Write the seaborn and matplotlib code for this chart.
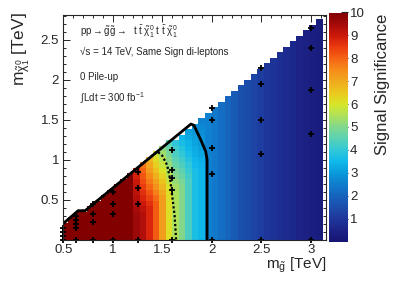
import numpy as np
import matplotlib
matplotlib.use("Agg")
import matplotlib.pyplot as plt
import seaborn as sns
from matplotlib.colors import LinearSegmentedColormap
from matplotlib.ticker import MultipleLocator

# ---------------- data ----------------
# heat-map binning (gluino mass columns, LSP mass rows), TeV
gluino_lo = 0.48
gluino_bin = 0.066
n_gluino_bins = 40
lsp_bin = 0.069
n_lsp_bins = 40

# number of filled LSP cells in each gluino column (kinematic triangle)
col_rows = [3, 4, 5, 5, 6, 7, 8, 9, 10, 11, 12, 13, 14, 15, 16, 17, 18, 18, 19, 20,
            21, 22, 23, 24, 25, 26, 27, 28, 29, 30, 31, 32, 33, 34, 35, 36, 37, 38, 39, 40]

# signal significance in each gluino column (low LSP mass)
sig_col = [10, 10, 10, 10, 10, 10, 10, 10, 10, 10, 10, 9.6, 9.3, 8.8, 8.1, 7.2, 6.1, 5.5, 5.0, 4.3,
           3.7, 3.45, 2.6, 2.4, 2.2, 2.0, 1.8, 1.6, 1.45, 1.3, 1.15, 1.0, 0.9, 0.8, 0.7, 0.6,
           0.5, 0.4, 0.35, 0.3]

# significance of the top cells (diagonal edge first, going down) for columns near the contours
edge_cols = [11, 12, 13, 14, 15, 16, 17, 18, 19, 20, 21]
edge_vals = [
    [8.8, 8.9, 9.0, 9.1, 9.2, 9.3, 9.35, 9.45, 9.55],
    [7.8, 8.0, 8.15, 8.3, 8.5, 8.65, 8.8, 9.0, 9.2],
    [6.8, 7.05, 7.25, 7.5, 7.7, 7.95, 8.2, 8.4, 8.65],
    [5.9, 6.15, 6.4, 6.65, 6.9, 7.15, 7.4, 7.65, 7.9],
    [5.1, 5.35, 5.6, 5.8, 6.05, 6.3, 6.55, 6.8, 7.0],
    [4.5, 4.7, 4.85, 5.05, 5.25, 5.4, 5.6, 5.8, 6.0],
    [3.95, 4.15, 4.3, 4.5, 4.65, 4.85, 5.0, 5.2, 5.4],
    [3.5, 3.65, 3.85, 4.0, 4.2, 4.35, 4.55, 4.7, 4.9],
    [3.1, 3.25, 3.4, 3.5, 3.65, 3.8, 3.95, 4.1, 4.2],
    [2.85, 2.95, 3.05, 3.15, 3.25, 3.35, 3.45, 3.55, 3.65],
    [2.6, 2.7, 2.8, 2.9, 3.0, 3.1, 3.2, 3.3, 3.4],
]

# simulated signal points
point_gluino = [0.5, 0.5, 0.5, 0.5,
                0.625, 0.625, 0.625, 0.625, 0.625,
                0.8, 0.8, 0.8, 0.8,
                1.0, 1.0, 1.0, 1.0,
                1.25, 1.25, 1.25, 1.25,
                1.6, 1.6, 1.6, 1.6, 1.6,
                2.0, 2.0, 2.0, 2.0, 2.0,
                2.5, 2.5, 2.5, 2.5, 2.5,
                3.0, 3.0, 3.0, 3.0, 3.0]
point_lsp = [0.0, 0.05, 0.1, 0.15,
             0.0, 0.15, 0.2, 0.25, 0.3,
             0.0, 0.225, 0.325, 0.45,
             0.0, 0.325, 0.45, 0.6,
             0.0, 0.45, 0.65, 0.85,
             0.0, 0.625, 0.775, 0.875, 1.125,
             0.0, 0.825, 1.15, 1.5, 1.65,
             0.0, 1.075, 1.5, 1.95, 2.15,
             0.0, 1.325, 1.875, 2.4, 2.65]

# 3 sigma (solid) and 5 sigma (dotted) contours
c3_gluino = [1.953, 1.953, 1.939, 1.896, 1.82, 1.79, 0.72, 0.65, 0.5]
c3_lsp = [0.0, 1.0, 1.104, 1.229, 1.43, 1.445, 0.36, 0.36, 0.2]
c5_gluino = [1.64, 1.625, 1.60, 1.58, 1.55, 1.50, 1.45, 0.72, 0.65, 0.5]
c5_lsp = [0.0, 0.3, 0.55, 0.75, 0.93, 1.05, 1.10, 0.36, 0.36, 0.2]

cbar_ticks = [1, 2, 3, 4, 5, 6, 7, 8, 9, 10]

# ---------------- style ----------------
sns.set_style("ticks")
plt.rcParams["font.family"] = ["Liberation Sans", "DejaVu Sans"]
plt.rcParams["mathtext.fontset"] = "custom"
plt.rcParams["mathtext.rm"] = "Liberation Sans"
plt.rcParams["mathtext.it"] = "Liberation Sans"
plt.rcParams["mathtext.bf"] = "Liberation Sans:bold"

stops = [
    (0.00, (22, 22, 115)), (0.05, (28, 35, 135)), (0.10, (30, 55, 155)),
    (0.15, (28, 78, 172)), (0.20, (22, 100, 190)), (0.25, (15, 125, 205)),
    (0.30, (10, 155, 220)), (0.35, (15, 185, 235)), (0.40, (50, 200, 215)),
    (0.45, (90, 210, 180)), (0.50, (130, 215, 140)), (0.55, (175, 225, 90)),
    (0.60, (215, 230, 40)), (0.65, (235, 200, 30)), (0.70, (240, 170, 30)),
    (0.75, (245, 140, 25)), (0.80, (245, 100, 20)), (0.85, (235, 60, 15)),
    (0.90, (205, 25, 10)), (0.95, (165, 10, 10)), (1.00, (130, 0, 0)),
]
cmap = LinearSegmentedColormap.from_list(
    "rootrainbow", [(p, tuple(c / 255 for c in col)) for p, col in stops])

# ---------------- build cells ----------------
x_edges = gluino_lo + gluino_bin * np.arange(n_gluino_bins + 1)
y_edges = lsp_bin * np.arange(n_lsp_bins + 1)
edge_map = dict(zip(edge_cols, edge_vals))
xs, ys, ws = [], [], []
for i in range(n_gluino_bins):
    xc = 0.5 * (x_edges[i] + x_edges[i + 1])
    for k in range(col_rows[i]):
        yc = 0.5 * (y_edges[k] + y_edges[k + 1])
        val = sig_col[i]
        depth = col_rows[i] - 1 - k
        if i in edge_map and depth < len(edge_map[i]):
            val = edge_map[i][depth]
        xs.append(xc)
        ys.append(yc)
        ws.append(val)

W, H = 399, 286
fig = plt.figure(figsize=(W / 100, H / 100), dpi=100)
ax = fig.add_axes([63.3 / W, 1 - 239.5 / H, (325.7 - 63.3) / W, (239.5 - 15) / H])

sns.histplot(x=xs, y=ys, weights=ws, bins=[x_edges, y_edges], cmap=cmap, ax=ax, cbar=False)
mesh = ax.collections[0]
mesh.set_cmap(cmap)
mesh.set_clim(0, 10)

ax.plot(c3_gluino, c3_lsp, color="black", lw=2.0, solid_joinstyle="round", zorder=4)
ax.plot(c5_gluino, c5_lsp, color="black", lw=1.6, linestyle=(0, (1, 1)), zorder=4)

sns.scatterplot(x=point_gluino, y=point_lsp, marker="+", s=18, color="black",
                linewidth=1.3, ax=ax, zorder=5, clip_on=False)

ax.set_xlim(0.5, 3.152)
ax.set_ylim(0.0, 2.81)
ax.set_xlabel("")
ax.set_ylabel("")
ax.xaxis.set_major_locator(MultipleLocator(0.5))
ax.xaxis.set_minor_locator(MultipleLocator(0.1))
ax.yaxis.set_major_locator(MultipleLocator(0.5))
ax.yaxis.set_minor_locator(MultipleLocator(0.1))
ax.set_xticks([0.5, 1, 1.5, 2, 2.5, 3])
ax.set_xticklabels(["0.5", "1", "1.5", "2", "2.5", "3"])
ax.set_yticks([0.5, 1, 1.5, 2, 2.5])
ax.set_yticklabels(["0.5", "1", "1.5", "2", "2.5"])
ax.tick_params(which="both", direction="in", top=True, right=True, width=0.7, labelsize=9.5)
ax.tick_params(which="major", length=5)
ax.tick_params(which="minor", length=2.5)
ax.tick_params(axis="x", pad=3)
ax.tick_params(axis="y", pad=3)
for s in ax.spines.values():
    s.set_linewidth(0.8)
    s.set_zorder(6)

# text block
tx = 0.064
ax.text(tx, 0.926, r"pp$\rightarrow\tilde{\mathrm{g}}\tilde{\mathrm{g}}\rightarrow$  t $\bar{\mathrm{t}}$ $\tilde{\chi}_1^0$ t $\bar{\mathrm{t}}$ $\tilde{\chi}_1^0$",
        transform=ax.transAxes, fontsize=7, va="center", ha="left")
ax.text(tx, 0.834, "\u221As = 14 TeV, Same Sign di-leptons", transform=ax.transAxes,
        fontsize=7, va="center", ha="left")
ax.text(tx, 0.722, "0 Pile-up", transform=ax.transAxes, fontsize=7, va="center", ha="left")
ax.text(tx, 0.629, r"$\int$Ldt = 300 fb$^{-1}$", transform=ax.transAxes, fontsize=7,
        va="center", ha="left")

# axis titles
fig.text(327 / W, 1 - 265 / H, r"m$_{\tilde{\mathrm{g}}}$ [TeV]", fontsize=11, ha="right", va="center")
fig.text(21 / W, 1 - 12 / H, r"m$_{\tilde{\chi}_1^0}$ [TeV]", fontsize=12.5, ha="center", va="top",
         rotation=90)

# colour bar
cax = fig.add_axes([329 / W, 1 - 241.5 / H, 19 / W, (241.5 - 12.5) / H])
cb = fig.colorbar(mesh, cax=cax)
cb.outline.set_visible(False)
cb.set_ticks(cbar_ticks)
cb.set_ticklabels([str(t) for t in cbar_ticks])
cax.tick_params(direction="in", length=5, width=0.8, labelsize=9.5, pad=1.5)
fig.text(383 / W, 1 - 14 / H, "Signal Significance", fontsize=12, rotation=90,
         ha="center", va="top")

fig.savefig("out.png", dpi=100)
